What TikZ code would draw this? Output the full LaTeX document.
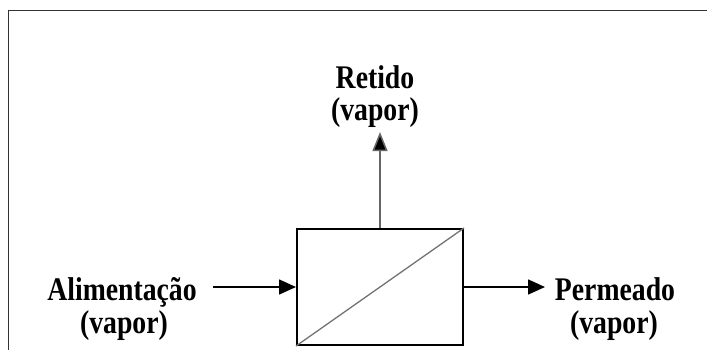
\documentclass[tikz,border=0pt]{standalone}
\usepackage{fontspec}
\setmainfont{Liberation Serif}
\newfontfamily\labfont[FakeStretch=0.84]{Liberation Serif}
\usetikzlibrary{arrows.meta}
\begin{document}
\begin{tikzpicture}[x=1pt,y=-1pt,
  lab/.style={font=\labfont\bfseries\fontsize{33}{33}\selectfont, inner sep=0pt, anchor=base},
  flow/.style={line width=1.6pt, -{Triangle[length=17pt,width=15pt]}},
  membrane/.style={draw=black, line width=2pt, minimum width=166pt, minimum height=116pt, inner sep=0pt}]
\useasboundingbox (0,0) rectangle (707,349);
\fill[white] (0,0) rectangle (707,349);
% frame
\draw[line width=1.5pt, draw=black!80] (8.5,352) -- (8.5,10.5) -- (712,10.5);
% membrane box
\node[membrane] (mem) at (380,287) {};
\draw[line width=1.3pt, draw=black!55] (mem.south west) -- (mem.north east);
% coordinates
\coordinate (inL) at (213,287);
\coordinate (outR) at (545,287);
\coordinate (topT) at (380,132);
% connectors
\draw[flow] (inL) -- (mem.west);
\draw[flow] (mem.east) -- (outR);
\draw[line width=1.5pt, draw=black!60, -{Triangle[length=19pt,width=15pt,fill=black]}] (mem.north) -- (topT);
% labels
\node[lab] (ret1) at (375,88) {Retido};
\node[lab] (ret2) at (375,120) {(vapor)};
\node[lab] (ali1) at (122,300) {Alimentação};
\node[lab] (ali2) at (124,333) {(vapor)};
\node[lab] (per1) at (615,300) {Permeado};
\node[lab] (per2) at (614,333) {(vapor)};
\end{tikzpicture}
\end{document}
